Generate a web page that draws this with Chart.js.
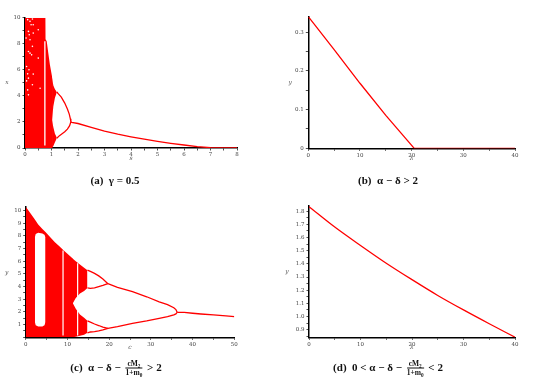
<!DOCTYPE html>
<html>
<head>
<meta charset="utf-8">
<script src="https://cdn.jsdelivr.net/npm/chart.js@4.4.1/dist/chart.umd.min.js"></script>
<style>
body { margin: 0; background: #fff; width: 539px; height: 391px; position: relative; overflow: hidden; }
canvas { position: absolute; }
.cap { position: absolute; font-family: "Liberation Serif", serif; font-size: 11px; font-weight: bold; white-space: nowrap; transform: translate(-50%, -50%); color: #111; }
.fr { display: inline-block; vertical-align: middle; text-align: center; font-size: 7.5px; line-height: 8px; margin: 0 2px; }
.fr span { display: block; }
.fr .num { border-bottom: 0.8px solid #111; }
sub { font-size: 70%; line-height: 0; }
</style>
</head>
<body>
<canvas id="ca" width="270" height="190" style="left:0;top:0"></canvas>
<canvas id="cb" width="269" height="190" style="left:270px;top:0"></canvas>
<canvas id="cc" width="270" height="190" style="left:0;top:190px"></canvas>
<canvas id="cd" width="269" height="190" style="left:270px;top:190px"></canvas>

<div class="cap" style="left:115px;top:180px">(a)&nbsp; γ = 0.5</div>
<div class="cap" style="left:388px;top:180px">(b)&nbsp; α − δ &gt; 2</div>
<div class="cap" style="left:116px;top:368px">(c)&nbsp; α − δ − <span class="fr"><span class="num">cM<sub>2</sub></span><span>1+m<sub>0</sub></span></span> &gt; 2</div>
<div class="cap" style="left:388px;top:368px">(d)&nbsp; 0 &lt; α − δ − <span class="fr"><span class="num">cM<sub>2</sub></span><span>1+m<sub>0</sub></span></span> &lt; 2</div>

<script>
// (a) gamma = 0.5, bifurcation in s
const aMainX = [0, 0.77, 0.775, 0.82, 0.88, 0.94, 1.01, 1.035];
const aMainTop = [10, 10, 8.35, 8.2, 7.28, 6.38, 5.6, 5.3];
const aUpX = [1.02, 1.07, 1.13, 1.2];
const aUpTop = [5.4, 4.8, 4.5, 4.3];
const aUpBot = [2.15, 3.2, 3.85, 4.25];
const aLoX = [1.02, 1.07, 1.13, 1.2];
const aLoTop = [2.15, 1.6, 1.1, 0.8];
const aLoBot = [0, 0.15, 0.45, 0.75];
const aGapX = [0.75, 0.75];
const aGapY = [0.2, 8.2];
const aBrUpX = [1.2, 1.26, 1.37, 1.5, 1.6, 1.67, 1.71, 1.73];
const aBrUpY = [4.3, 4.15, 3.9, 3.45, 3.0, 2.6, 2.25, 2.0];
const aBrLoX = [1.2, 1.3, 1.4, 1.5, 1.6, 1.68, 1.73];
const aBrLoY = [0.75, 0.95, 1.1, 1.25, 1.45, 1.7, 2.0];
const aTailX = [1.73, 1.76, 2, 2.5, 3, 3.5, 4, 4.5, 5, 5.5, 6, 6.5, 7, 8];
const aTailY = [2.0, 1.97, 1.88, 1.58, 1.3, 1.06, 0.86, 0.68, 0.51, 0.36, 0.23, 0.1, 0.03, 0];
const aDotX = [0.10, 0.19, 0.28, 0.23, 0.31, 0.13, 0.50, 0.31, 0.16, 0.04, 0.19, 0.28, 0.13, 0.19, 0.25, 0.50, 0.06, 0.15, 0.10, 0.13, 0.06, 0.31, 0.28, 0.10, 0.57, 0.13];
const aDotY = [9.85, 9.72, 9.9, 9.46, 9.46, 8.95, 9.08, 8.82, 8.69, 8.44, 8.31, 7.8, 7.41, 7.28, 7.15, 6.9, 6.26, 6.0, 5.69, 5.36, 5.15, 5.67, 4.85, 4.46, 4.59, 4.08];

// (b) alpha - delta > 2
const bX = [0, 5, 10, 15, 20.5, 25, 30, 35, 40];
const bY = [0.34, 0.255, 0.168, 0.085, 0, 0, 0, 0, 0];

// (c) bifurcation in c
const cMainX = [0, 1, 2.2, 3, 4, 4.8, 6, 7, 8, 9, 10, 11, 11.35];
const cMainTop = [10.3, 9.85, 9.3, 8.9, 8.55, 8.3, 7.85, 7.5, 7.2, 6.9, 6.6, 6.3, 6.2];
const cUpX = [11.3, 12, 13, 14, 14.8];
const cUpTop = [6.2, 6.0, 5.75, 5.5, 5.3];
const cUpBot = [2.68, 3.1, 3.45, 3.65, 3.9];
const cLoX = [11.3, 12, 13, 14, 14.8];
const cLoTop = [2.68, 2.25, 1.8, 1.55, 1.3];
const cLoBot = [0, 0.05, 0.12, 0.2, 0.35];
const cWinX = [2.2, 2.4, 3, 4, 4.5, 4.75];
const cWinTop = [7.9, 8.15, 8.25, 8.2, 8.1, 7.9];
const cWinBot = [1.2, 0.95, 0.85, 0.85, 0.95, 1.2];
const cGap1X = [8.95, 8.95];
const cGap1Y = [0.15, 6.85];
const cGap2X = [12.45, 12.45];
const cGap2Y = [0.15, 5.85];
const cB4X = [14.8, 15.5, 16.5, 17.5, 18.5, 19.7];
const cB4aY = [5.3, 5.2, 5.05, 4.85, 4.6, 4.23];
const cB4bY = [3.9, 3.87, 3.9, 4.0, 4.1, 4.23];
const cB4cY = [1.3, 1.2, 1.05, 0.93, 0.8, 0.71];
const cB4dY = [0.35, 0.42, 0.45, 0.5, 0.58, 0.71];
const cB2X = [19.7, 22, 25.6, 29, 32, 34, 35.5, 36, 36.3];
const cB2UpY = [4.23, 3.95, 3.6, 3.2, 2.8, 2.58, 2.33, 2.19, 1.97];
const cB2LoY = [0.71, 0.85, 1.1, 1.3, 1.5, 1.63, 1.77, 1.85, 1.97];
const cTailX = [36.3, 38, 40, 42, 45, 48, 50];
const cTailY = [1.97, 1.96, 1.9, 1.84, 1.77, 1.69, 1.63];

// (d) 0 < ... < 2
const dX = [0, 5, 10, 15, 20, 25, 30, 35, 40];
const dY = [1.835, 1.68, 1.54, 1.405, 1.28, 1.16, 1.05, 0.945, 0.843];

const RED = '#ff0000';
const NONE = 'rgba(0,0,0,0)';

function pts(xs, ys) { return xs.map((x, i) => ({ x: x, y: ys[i] })); }

function line(xs, ys, color, width, order) {
    return { data: pts(xs, ys), borderColor: color, borderWidth: width, pointRadius: 0, fill: false, order: order };
}
function area(xs, ys, color, order) {
    return { data: pts(xs, ys), borderColor: NONE, borderWidth: 0, pointRadius: 0, fill: 'origin', backgroundColor: color, order: order };
}
function band(xs, top, bot, color, order) {
    return [
        { data: pts(xs, top), borderColor: NONE, borderWidth: 0, pointRadius: 0, fill: '+1', backgroundColor: color, order: order },
        { data: pts(xs, bot), borderColor: NONE, borderWidth: 0, pointRadius: 0, fill: false, order: order }
    ];
}

const letters = {
    id: 'letters',
    afterDraw(chart, args, opts) {
        const { ctx, chartArea: a } = chart;
        ctx.save();
        ctx.font = 'italic 6px "DejaVu Serif"';
        ctx.fillStyle = '#555';
        ctx.textAlign = 'center';
        ctx.textBaseline = 'middle';
        ctx.fillText(opts.x, (a.left + a.right) / 2, a.bottom + 10);
        ctx.fillText(opts.y, a.left - opts.dy, (a.top + a.bottom) / 2);
        ctx.restore();
    }
};

function near(v, step) { return Math.abs(v / step - Math.round(v / step)) < 1e-6; }

function makeChart(id, datasets, p) {
    const tickFont = { family: '"DejaVu Serif"', size: 5.5 };
    return new Chart(document.getElementById(id), {
        type: 'line',
        data: { datasets: datasets },
        plugins: [letters],
        options: {
            responsive: false,
            animation: false,
            layout: { padding: { left: 0, right: p.R, top: p.T, bottom: p.B } },
            plugins: { legend: { display: false }, tooltip: { enabled: false }, letters: { x: p.xl, y: p.yl, dy: p.dy } },
            scales: {
                x: {
                    type: 'linear', min: p.x[0], max: p.x[1],
                    afterFit: s => { s.height = 20; },
                    border: { display: true, color: '#000', width: 1.5 },
                    grid: { drawOnChartArea: false, drawTicks: true, tickLength: 2.5, tickColor: '#222', tickWidth: 0.8 },
                    ticks: {
                        stepSize: p.x[2], autoSkip: false, maxRotation: 0, padding: 1, color: '#444', font: tickFont,
                        includeBounds: false,
                        callback: v => near(v, p.x[3]) ? String(Math.round(v / p.x[3]) * p.x[3]) : ''
                    }
                },
                y: {
                    type: 'linear', min: p.y[0], max: p.y[1],
                    afterFit: s => { s.width = p.W; },
                    border: { display: true, color: '#000', width: 1.5 },
                    grid: { drawOnChartArea: false, drawTicks: true, tickLength: 2.5, tickColor: '#222', tickWidth: 0.8 },
                    ticks: {
                        stepSize: p.y[2], autoSkip: false, padding: 2, color: '#444', font: tickFont,
                        includeBounds: false,
                        callback: v => (near(v, p.y[3]) && !(p.noZero && Math.abs(v) < 1e-9)) ? p.fmt(v) : ''
                    }
                }
            }
        }
    });
}

makeChart('ca', [
    area(aMainX, aMainTop, RED, 6),
    ...band(aUpX, aUpTop, aUpBot, RED, 6),
    ...band(aLoX, aLoTop, aLoBot, RED, 6),
    line(aGapX, aGapY, '#fff', 1.3, 4),
    line(aBrUpX, aBrUpY, RED, 1.3, 2),
    line(aBrLoX, aBrLoY, RED, 1.3, 2),
    line(aTailX, aTailY, RED, 1.3, 2),
    { data: pts(aDotX, aDotY), showLine: false, pointRadius: 0.8, pointBorderWidth: 0, pointBackgroundColor: '#fff', order: 1 }
], { x: [0, 8, 0.5, 1], y: [0, 10, 1, 2], W: 25, R: 33, T: 17.7, B: 22, xl: 's', yl: 'x', dy: 18,
     fmt: v => String(Math.round(v)) });

makeChart('cb', [
    line(bX, bY, RED, 1.3, 2)
], { x: [0, 40, 5, 10], y: [0, 0.34, 0.05, 0.1], W: 38.3, R: 24, T: 16.7, B: 21.7, xl: 'λ', yl: 'y', dy: 18,
     fmt: v => Math.abs(v) < 1e-9 ? '0' : v.toFixed(1) });

makeChart('cc', [
    area(cMainX, cMainTop, RED, 6),
    ...band(cUpX, cUpTop, cUpBot, RED, 6),
    ...band(cLoX, cLoTop, cLoBot, RED, 6),
    ...band(cWinX, cWinTop, cWinBot, '#fff', 5),
    line(cGap1X, cGap1Y, '#fff', 1.2, 4),
    line(cGap2X, cGap2Y, '#fff', 1.2, 4),
    line(cB4X, cB4aY, RED, 1.3, 2),
    line(cB4X, cB4bY, RED, 1.3, 2),
    line(cB4X, cB4cY, RED, 1.3, 2),
    line(cB4X, cB4dY, RED, 1.3, 2),
    line(cB2X, cB2UpY, RED, 1.3, 2),
    line(cB2X, cB2LoY, RED, 1.3, 2),
    line(cTailX, cTailY, RED, 1.3, 2)
], { x: [0, 50, 5, 10], y: [0, 10.31, 0.5, 1], W: 25.7, R: 35.7, T: 16.7, B: 22.7, xl: 'c', yl: 'y', dy: 19, noZero: true,
     fmt: v => String(Math.round(v)) });

makeChart('cd', [
    Object.assign(line(dX, dY, RED, 1.3, 2), { cubicInterpolationMode: 'monotone' })
], { x: [0, 40, 5, 10], y: [0.842, 1.84, 0.05, 0.1], W: 39, R: 24, T: 16, B: 22.7, xl: 'λ', yl: 'y', dy: 22,
     fmt: v => v.toFixed(1) });
</script>
</body>
</html>
